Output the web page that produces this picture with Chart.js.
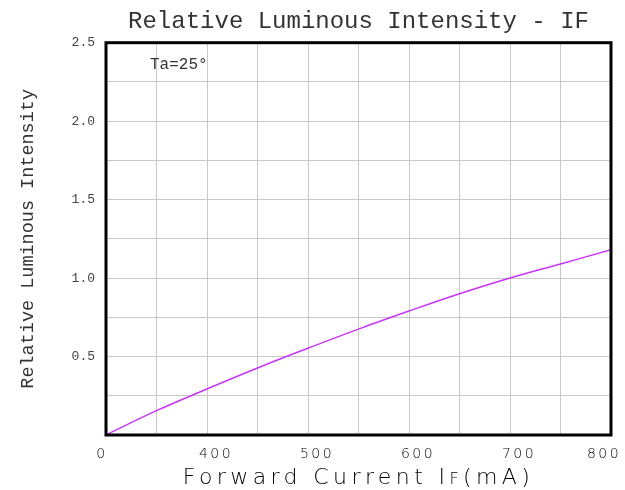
<!DOCTYPE html>
<html>
<head>
<meta charset="utf-8">
<title>Relative Luminous Intensity - IF</title>
<script src="https://cdn.jsdelivr.net/npm/chart.js@4.4.0/dist/chart.umd.min.js"></script>
<style>
  html, body { margin: 0; padding: 0; background: #fff; }
  #wrap { width: 625px; height: 490px; }
</style>
</head>
<body>
<div id="wrap"><canvas id="ivChart" width="625" height="490"></canvas></div>
<script>
// x positions of the 10 grid divisions, and what the sheet prints under some of them
const xGrid = [0, 100, 200, 300, 400, 500, 600, 700, 800, 900, 1000];
const intensity = [0, 0.155, 0.293, 0.427, 0.553, 0.675, 0.79, 0.90, 1.00, 1.09, 1.18];
const xTickPos = [0, 200, 400, 600, 800, 1000];
const xTickLabels = ['0', '400', '500', '600', '700', '800'];
const yTickLabels = [0.5, 1.0, 1.5, 2.0, 2.5];

const MONO = '"Liberation Mono", "DejaVu Sans Mono", monospace';
const THIN = '"DejaVu Sans", sans-serif';

// frame, bottom labels and the Ta note are drawn by hand (need letter spacing)
const sheetDecor = {
    id: 'sheetDecor',
    afterDraw(chart) {
        const { ctx, chartArea: a, scales: { x } } = chart;
        ctx.save();

        ctx.strokeStyle = '#000';
        ctx.lineWidth = 3;
        ctx.strokeRect(a.left, a.top, a.right - a.left, a.bottom - a.top);

        // tick labels under the axis
        ctx.fillStyle = '#000';
        ctx.font = '200 14px ' + THIN;
        ctx.letterSpacing = '2.5px';
        ctx.textAlign = 'center';
        ctx.textBaseline = 'alphabetic';
        xTickPos.forEach((v, i) => {
            let nudge = 9;
            if (i === 0) nudge = -4;
            else if (i === xTickPos.length - 1) nudge = -7;
            ctx.fillText(xTickLabels[i], x.getPixelForValue(v) + nudge, a.bottom + 23);
        });

        // axis title, with the small F of IF
        const parts = [
            ['Forward Current I', 22],
            ['F', 16],
            ['(mA)', 22]
        ];
        ctx.letterSpacing = '4.4px';
        ctx.textAlign = 'left';
        let total = 0;
        parts.forEach(p => {
            ctx.font = '200 ' + p[1] + 'px ' + THIN;
            total += ctx.measureText(p[0]).width;
        });
        let px = (a.left + a.right) / 2 - total / 2;
        parts.forEach(p => {
            ctx.font = '200 ' + p[1] + 'px ' + THIN;
            ctx.fillText(p[0], px, a.bottom + 49);
            px += ctx.measureText(p[0]).width;
        });

        // test condition
        ctx.letterSpacing = '0px';
        ctx.font = '16px ' + MONO;
        ctx.fillStyle = '#333';
        ctx.textBaseline = 'middle';
        ctx.fillText('Ta=25°', a.left + 44, a.top + 22);

        ctx.restore();
    }
};

new Chart(document.getElementById('ivChart'), {
    type: 'line',
    data: {
        datasets: [{
            data: xGrid.map((v, i) => ({ x: v, y: intensity[i] })),
            borderColor: '#c935f7',
            borderWidth: 1.5,
            pointRadius: 0,
            tension: 0.4,
            fill: false
        }]
    },
    options: {
        responsive: false,
        animation: false,
        layout: { padding: { left: 0, right: 14, top: 0, bottom: 0 } },
        plugins: {
            legend: { display: false },
            tooltip: { enabled: false },
            title: {
                display: true,
                fullSize: false,
                text: 'Relative Luminous Intensity - IF',
                color: '#333',
                font: { family: MONO, size: 24, weight: 'normal' },
                padding: { top: 7.5, bottom: 6.4 }
            }
        },
        scales: {
            x: {
                type: 'linear',
                min: 0,
                max: 1000,
                border: { display: false },
                grid: { color: '#c8c8c8', lineWidth: 1, drawTicks: false },
                ticks: { stepSize: 100, display: false },
                afterFit: s => { s.height = 55; }
            },
            y: {
                min: 0,
                max: 2.5,
                border: { display: false },
                grid: { color: '#c8c8c8', lineWidth: 1, drawTicks: false },
                ticks: {
                    stepSize: 0.25,
                    padding: 11,
                    color: '#444',
                    font: { family: MONO, size: 13 },
                    callback: v => {
                        const hit = yTickLabels.find(t => Math.abs(t - v) < 1e-6);
                        return hit === undefined ? '' : hit.toFixed(1);
                    }
                },
                title: {
                    display: true,
                    text: 'Relative Luminous Intensity',
                    color: '#333',
                    font: { family: MONO, size: 18.5, weight: 'normal' },
                    padding: { top: 17, bottom: 0 }
                },
                afterFit: s => { s.width = 106; }
            }
        }
    },
    plugins: [sheetDecor]
});
</script>
</body>
</html>
